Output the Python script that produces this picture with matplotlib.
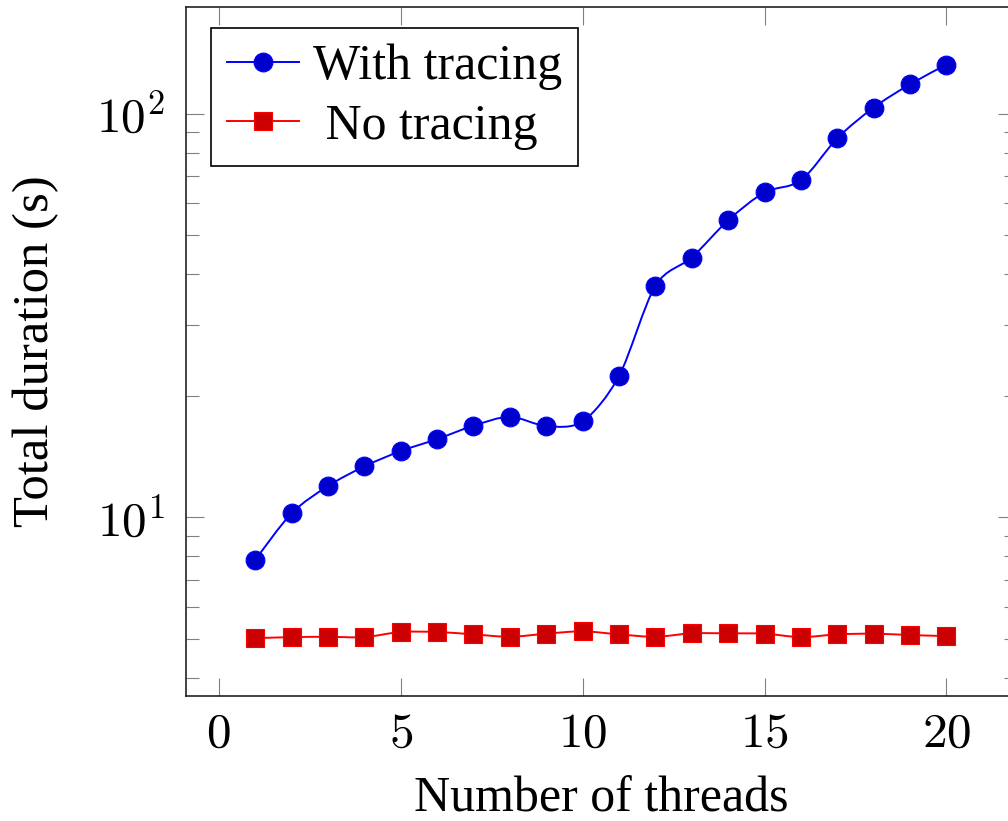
import matplotlib
matplotlib.use("Agg")
import matplotlib.pyplot as plt
import numpy as np
from matplotlib.path import Path
from matplotlib.patches import PathPatch
from matplotlib.lines import Line2D
from matplotlib.ticker import LogLocator, NullFormatter, MultipleLocator, NullLocator, FuncFormatter

threads = [1, 2, 3, 4, 5, 6, 7, 8, 9, 10, 11, 12, 13, 14, 15, 16, 17, 18, 19, 20]
with_tracing = [7.84, 10.23, 11.95, 13.37, 14.59, 15.62, 16.86, 17.74, 16.83, 17.28,
                22.38, 37.44, 44.0, 54.4, 63.8, 68.3, 86.9, 103.5, 118.2, 132.2]
no_tracing = [5.02, 5.05, 5.06, 5.05, 5.20, 5.20, 5.13, 5.06, 5.15, 5.22,
              5.13, 5.06, 5.16, 5.16, 5.15, 5.05, 5.13, 5.15, 5.11, 5.08]
labels = ["With tracing", " No tracing"]

plt.rcParams['font.family'] = ['Liberation Serif', 'DejaVu Serif']
plt.rcParams['mathtext.fontset'] = 'cm'
fs = 35.5


def smooth_path(xs, ys, t=0.15):
    # tikz-like smooth curve, computed in (x, log y) space
    p = np.column_stack([np.asarray(xs, float), np.log10(ys)])
    n = len(p)
    verts = [p[0]]
    codes = [Path.MOVETO]
    for i in range(n - 1):
        prev = p[i - 1] if i > 0 else p[i]
        nxt = p[i + 2] if i + 2 < n else p[i + 1]
        c1 = p[i] + t * (p[i + 1] - prev)
        c2 = p[i + 1] - t * (nxt - p[i])
        verts += [c1, c2, p[i + 1]]
        codes += [Path.CURVE4] * 3
    verts = np.array(verts)
    verts[:, 1] = 10 ** verts[:, 1]
    return Path(verts, codes)


fig = plt.figure(figsize=(10.08, 8.21), dpi=100)
ax = fig.add_axes([186 / 1008, 125.3 / 821, 829.6 / 1008, 688.5 / 821])
ax.set_yscale('log')
ax.set_xlim(-0.9, 21.9)
ax.set_ylim(3.616, 183.4)

series = [
    (with_tracing, 'o', '#0000FF', '#0000CC'),
    (no_tracing, 's', '#FF0000', '#CC0000'),
]
handles = []
for vals, mk, c, fc in series:
    ax.add_patch(PathPatch(smooth_path(threads, vals), fill=False, edgecolor=c, lw=1.4, zorder=2))
    ax.plot(threads, vals, ls='none', marker=mk, ms=13.5, mfc=fc, mec=c, mew=0.8, zorder=3)
    handles.append(Line2D([], [], color=c, lw=1.4, marker=mk, ms=13.5, mfc=fc, mec=c, mew=0.8))

ax.xaxis.set_major_locator(MultipleLocator(5))
ax.xaxis.set_minor_locator(NullLocator())
ax.xaxis.set_major_formatter(FuncFormatter(lambda v, p: "$%d$" % round(v)))
ax.yaxis.set_major_locator(LogLocator(base=10))
ax.yaxis.set_minor_locator(LogLocator(base=10, subs=np.arange(2, 10)))
ax.yaxis.set_major_formatter(FuncFormatter(lambda v, p: "$10^{%d}$" % round(np.log10(v))))
ax.yaxis.set_minor_formatter(NullFormatter())

ax.tick_params(which='both', direction='in', top=True, right=True, color='#808080',
               width=0.8, labelsize=fs)
ax.tick_params(which='major', length=13)
ax.tick_params(which='minor', length=9)
ax.tick_params(axis='x', pad=12)
ax.tick_params(axis='y', pad=15)
for s in ax.spines.values():
    s.set_linewidth(1.2)
    s.set_color('#222222')

ax.set_xlabel("Number of threads", fontsize=36, labelpad=14)
ax.set_ylabel("Total duration (s)", fontsize=36.5, labelpad=27)

leg = ax.legend(handles, labels, loc='upper left', bbox_to_anchor=(0.03, 0.97),
                borderaxespad=0, fontsize=36, fancybox=False, edgecolor='black',
                framealpha=1, handlelength=1.45, handletextpad=0.27, borderpad=0.32,
                labelspacing=0.26)
leg.get_frame().set_linewidth(1.2)

fig.savefig("out.png", dpi=100)
